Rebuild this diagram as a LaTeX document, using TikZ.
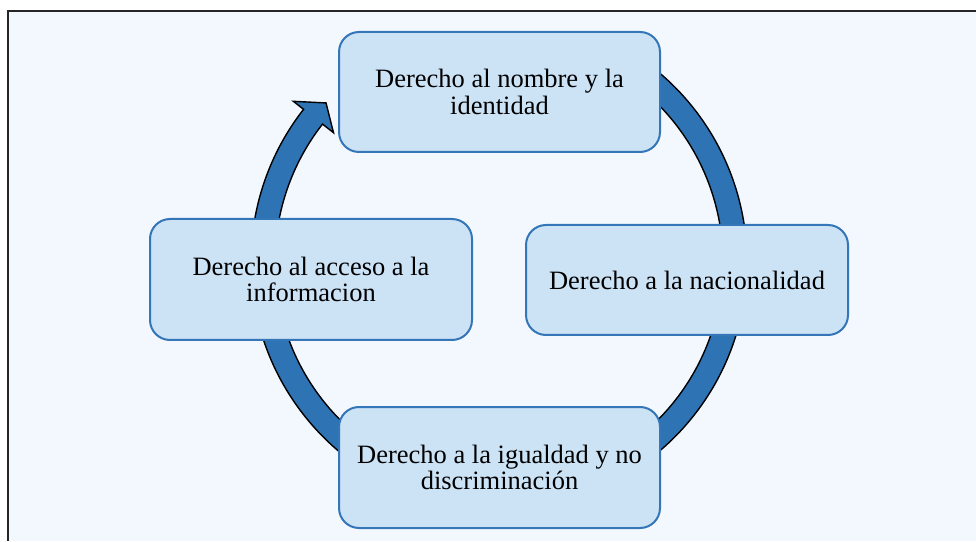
\documentclass[tikz,border=0pt]{standalone}
\usepackage{fontspec}
\setmainfont{Liberation Serif}
\usetikzlibrary{calc}
\definecolor{bgblue}{HTML}{F2F8FE}
\definecolor{boxfill}{HTML}{CCE2F5}
\definecolor{boxline}{HTML}{3476B7}
\definecolor{ringblue}{HTML}{2E74B5}
\begin{document}
\begin{tikzpicture}[x=1pt,y=1pt,
  cyclebox/.style={draw=boxline, line width=2pt, fill=boxfill, rounded corners=20pt,
    inner sep=0pt, align=center, font=\fontsize{26.5}{26.5}\selectfont},
  ringseg/.style={fill=ringblue, draw=black, line width=1.4pt, line join=miter}]
\useasboundingbox (0,0) rectangle (976,541);
\fill[white] (0,0) rectangle (976,541);
\fill[bgblue] (8,0) rectangle (976,530);
\draw[black!85, line width=1.5pt] (8,0) -- (8,530) -- (976,530);
\coordinate (C) at (499,279);
% ring segments (heads hidden under the boxes)
\draw[ringseg] ([shift={(C)}]60:248pt) arc[start angle=60, end angle=0, radius=248pt]
  -- ([shift={(C)}]0:224pt) arc[start angle=0, end angle=60, radius=224pt] -- cycle;
\draw[ringseg] ([shift={(C)}]0:248pt) arc[start angle=0, end angle=-90, radius=248pt]
  -- ([shift={(C)}]-90:224pt) arc[start angle=-90, end angle=0, radius=224pt] -- cycle;
\draw[ringseg] ([shift={(C)}]-90:248pt) arc[start angle=-90, end angle=-180, radius=248pt]
  -- ([shift={(C)}]-180:224pt) arc[start angle=-180, end angle=-90, radius=224pt] -- cycle;
% arrow into the top box
\draw[ringseg] ([shift={(C)}]180:248pt) arc[start angle=180, end angle=142, radius=248pt]
  -- ([shift={(C)}]142:261pt) -- ([shift={(C)}]137.4:235pt) -- ([shift={(C)}]142:210pt)
  -- ([shift={(C)}]142:224pt) arc[start angle=142, end angle=180, radius=224pt] -- cycle;
% boxes
\node[cyclebox, minimum width=321pt, minimum height=120pt] (n1) at (499.5,449)
  {Derecho al nombre y la\\identidad};
\node[cyclebox, minimum width=322pt, minimum height=110pt] (n2) at (687,261)
  {Derecho a la nacionalidad};
\node[cyclebox, minimum width=321pt, minimum height=121pt] (n3) at (499.5,73.5)
  {Derecho a la igualdad y no\\discriminación};
\node[cyclebox, minimum width=322pt, minimum height=121pt] (n4) at (311,261.5)
  {Derecho al acceso a la\\informacion};
\end{tikzpicture}
\end{document}
